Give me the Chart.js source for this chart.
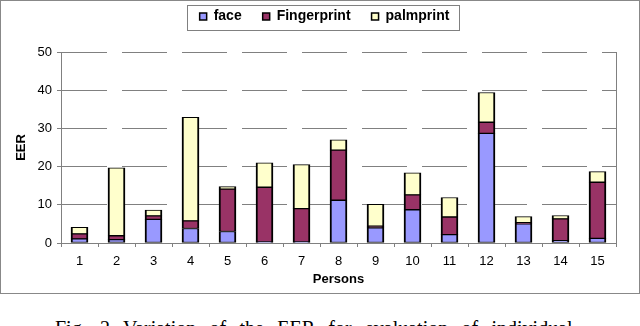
<!DOCTYPE html>
<html>
<head>
<meta charset="utf-8">
<script src="https://cdn.jsdelivr.net/npm/chart.js@4.4.0/dist/chart.umd.min.js"></script>
<style>
body{margin:0;background:#fff;width:640px;height:326px;overflow:hidden;position:relative}
#frame{position:absolute;left:0;top:0;width:640px;height:294px;border:1px solid #888;box-sizing:border-box}
#frame canvas{position:absolute;left:0;top:0}
#caption{position:absolute;left:55px;top:318px;font-family:"Liberation Serif",serif;font-size:20px;line-height:20px;word-spacing:8.3px;white-space:nowrap;color:#000}
</style>
</head>
<body>
<div id="frame"><canvas id="chart" width="638" height="292"></canvas></div>
<div id="caption">Fig. 2 Variation of the EER for evaluation of individual</div>
<script>
let persons = ["1","2","3","4","5","6","7","8","9","10","11","12","13","14","15"];
let face = [1.1, 0.9, 6.2, 3.8, 3.0, 0.3, 0.3, 11.2, 4.0, 8.7, 2.2, 28.7, 5.0, 0.6, 1.2];
let fingerprint = [1.3, 1.0, 0.9, 2.0, 11.1, 14.3, 8.7, 13.1, 0.4, 3.9, 4.6, 2.9, 0.3, 5.7, 14.7];
let palmprint = [1.7, 17.8, 1.5, 27.1, 0.7, 6.4, 11.5, 2.7, 5.7, 5.8, 5.1, 7.8, 1.6, 0.9, 2.8];
let yTicks = [0, 10, 20, 30, 40, 50];

let font = "'Liberation Sans', Arial, sans-serif";
let grey = "#808080";

// extra room under the legend, like the excel layout
const legendSpace = {
  id: "legendSpace",
  beforeInit(chart){
    const fit = chart.legend.fit;
    chart.legend.fit = function(){ fit.call(this); this.height += 18.5; };
  }
};

// border around the legend items
const legendBox = {
  id: "legendBox",
  afterDraw(chart){
    let boxes = chart.legend.legendHitBoxes;
    if(!boxes || !boxes.length) return;
    let first = boxes[0], last = boxes[boxes.length-1];
    let x1 = first.left - 13, x2 = last.left + last.width + 9;
    let y1 = first.top - 5, y2 = first.top + first.height + 5.5;
    let ctx = chart.ctx;
    ctx.save();
    ctx.strokeStyle = grey; ctx.lineWidth = 1;
    ctx.strokeRect(Math.round(x1)+0.5, Math.round(y1)+0.5, Math.round(x2-x1), Math.round(y2-y1));
    ctx.restore();
  }
};

function ds(label, data, color){
  return {label:label, data:data, backgroundColor:color, borderColor:"#000",
    borderWidth:{top:1, bottom:1, left:2, right:2}, borderSkipped:false, barThickness:17};
}

new Chart(document.getElementById("chart"), {
  type: "bar",
  data: {
    labels: persons,
    datasets: [
      ds("face", face, "#9999ff"),
      ds("Fingerprint", fingerprint, "#993366"),
      ds("palmprint", palmprint, "#ffffcc")
    ]
  },
  options: {
    responsive: false,
    animation: false,
    devicePixelRatio: 1,
    layout: {padding: {top: -12.5, left: 9, right: 0, bottom: 0}},
    plugins: {
      tooltip: {enabled: false},
      legend: {
        position: "top",
        labels: {boxWidth: 7, boxHeight: 7, padding: 21, color: "#000",
          font: {family: font, size: 14, weight: "bold"}}
      }
    },
    scales: {
      x: {
        stacked: true,
        grid: {display: true, drawOnChartArea: false, drawTicks: true, tickLength: 4, color: grey},
        border: {color: grey},
        ticks: {color: "#000", padding: 7, font: {family: font, size: 13}},
        title: {display: true, text: "Persons", color: "#000", padding: {top: 0, bottom: 6},
          font: {family: font, size: 13, weight: "bold"}},
        afterFit(scale){ scale.height = 50; }
      },
      y: {
        stacked: true,
        min: 0, max: 50,
        afterBuildTicks(scale){ scale.ticks = yTicks.map(v => ({value: v})); },
        grid: {color: grey, tickLength: 4, drawTicks: true},
        border: {color: grey, dash: [45, 15]},
        ticks: {color: "#000", padding: 5, font: {family: font, size: 13}},
        title: {display: true, text: "EER", color: "#000", padding: {top: 4, bottom: 0},
          font: {family: font, size: 13, weight: "bold"}},
        afterFit(scale){ scale.width = 51; }
      },
      y2: {
        position: "right",
        min: 0, max: 50,
        grid: {display: true, drawOnChartArea: false, drawTicks: false},
        border: {color: grey},
        ticks: {display: false},
        afterFit(scale){ scale.width = 23; }
      }
    }
  },
  plugins: [legendSpace, legendBox]
});
</script>
</body>
</html>
